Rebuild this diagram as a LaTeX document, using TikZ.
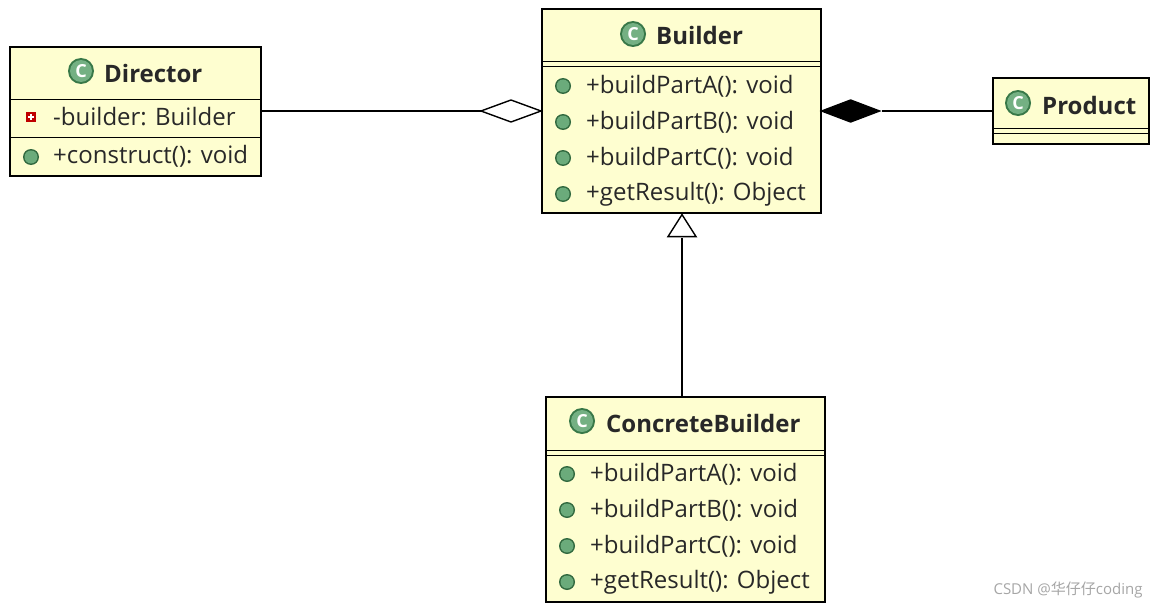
\documentclass[tikz,border=0pt]{standalone}
\usepackage{fontspec}
\setmainfont{Open Sans}
\newfontfamily\cjk{Noto Sans CJK SC}
\usetikzlibrary{shapes.geometric}
\definecolor{boxfill}{RGB}{254,254,208}
\definecolor{ink}{RGB}{40,40,40}
\definecolor{gdot}{RGB}{70,150,90}
\begin{document}
\begin{tikzpicture}[x=1pt,y=-1pt,
  box/.style={draw=black,line width=1.6pt,fill=boxfill,inner sep=0pt,anchor=north west},
  hd/.style={font=\fontsize{24}{26}\selectfont\bfseries,text=ink,anchor=west,inner sep=0pt},
  row/.style={font=\fontsize{24}{26}\selectfont,text=ink,anchor=west,inner sep=0pt},
  sep/.style={line width=1pt},
  cls/.pic={\fill[gdot!80!black] (0,0) circle (13pt); \fill[gdot!75!white] (0,0) circle (11pt);
            \node[text=white,font=\fontsize{18}{18}\selectfont\bfseries,inner sep=0pt] {C};},
  meth/.pic={\fill[gdot!70!black] (0,0) circle (8pt); \fill[gdot!80!white] (0,0) circle (6.5pt);},
  priv/.pic={\fill[red!75!black] (-5,-5) rectangle (5,5); \fill[white] (-1,-3) rectangle (1,3); \fill[white] (-3,-1) rectangle (3,1);},
  line/.style={line width=1.4pt}]
\useasboundingbox (0,0) rectangle (1154,610);
\fill[white] (0,0) rectangle (1154,610);
% Director
\node[box,minimum width=251,minimum height=129] (dir) at (9,46) {};
\draw[sep] (9,99) -- (260,99); \draw[sep] (9,137) -- (260,137);
\pic at (81,71) {cls}; \node[hd] (dirt) at (104,73) {Director};
\pic at (31,117) {priv}; \node[row] (dir1) at (53,117) {-builder: Builder};
\pic at (31,157) {meth}; \node[row] (dir2) at (53,156) {+construct(): void};
% Builder
\node[box,minimum width=279,minimum height=204] (bld) at (541,8) {};
\draw[sep] (541,62) -- (820,62); \draw[sep] (541,67) -- (820,67);
\pic at (633,34) {cls}; \node[hd] (bldt) at (656,36) {Builder};
\foreach \y/\t [count=\i] in {86/+buildPartA(): void,122/+buildPartB(): void,158/+buildPartC(): void,194/+getResult(): Object}{
  \pic at (563,\y) {meth}; \node[row] (b\i) at (586,\y) {\t};}
% Product
\node[box,minimum width=156,minimum height=66] (prd) at (992,77) {};
\draw[sep] (992,128) -- (1148,128); \draw[sep] (992,133) -- (1148,133);
\pic at (1018,103) {cls}; \node[hd] (prdt) at (1042,105) {Product};
% ConcreteBuilder
\node[box,minimum width=279,minimum height=205] (cb) at (545,396) {};
\draw[sep] (545,450) -- (824,450); \draw[sep] (545,455) -- (824,455);
\pic at (582,421) {cls}; \node[hd] (cbt) at (606,423) {ConcreteBuilder};
\foreach \y/\t [count=\i] in {474/+buildPartA(): void,510/+buildPartB(): void,546/+buildPartC(): void,582/+getResult(): Object}{
  \pic at (567,\y) {meth}; \node[row] (c\i) at (590,\y) {\t};}
% connectors
\coordinate (dE) at (dir.east |- 0,111);
\coordinate (bW) at (bld.west |- 0,111);
\coordinate (bE) at (bld.east |- 0,111);
\coordinate (pW) at (prd.west |- 0,111);
\coordinate (cN) at (cb.north -| 682,0);
\coordinate (bS) at (bld.south -| 682,0);
\draw[line] (dE) -- ([xshift=-60]bW);
\draw[line,fill=white] (bW) -- ++(-30,-11) -- ++(-30,11) -- ++(30,11) -- cycle;
\draw[line] (pW) -- ([xshift=60]bE);
\draw[line,fill=black] (bE) -- ++(29,-11) -- ++(29,11) -- ++(-29,11) -- cycle;
\draw[line] (cN) -- ([yshift=-24]bS);
\draw[line,fill=white] ([yshift=-1]bS) -- ++(14,22) -- ++(-28,0) -- cycle;
% watermark
\node[anchor=east,text=gray!70,font=\fontsize{15}{15}\selectfont] (wm) at (1146,590) {CSDN @{\cjk 华仔仔}coding};
\end{tikzpicture}
\end{document}
